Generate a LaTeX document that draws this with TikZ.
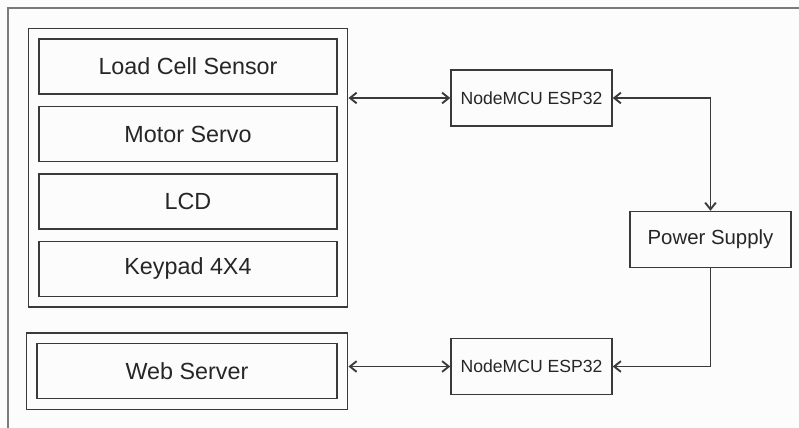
\documentclass[tikz,border=0pt]{standalone}
\usepackage{fontspec}
\setmainfont{Liberation Sans}
\usetikzlibrary{arrows.meta,positioning,fit}
\definecolor{blkline}{HTML}{3A3A3A}
\definecolor{blkframe}{HTML}{7A7A7A}
\definecolor{blktext}{HTML}{262626}
\definecolor{blkbg}{HTML}{FCFCFC}

\begin{document}
\begin{tikzpicture}[x=0.75pt,y=-0.75pt,
  part/.style={draw=blkline,line width=1.1pt,minimum width=223.5pt,minimum height=41.25pt,inner sep=0pt,text=blktext,font=\fontsize{17.5}{21}\selectfont},
  group/.style={draw=blkline,line width=1.1pt,inner sep=7.5pt},
  unit/.style={draw=blkline,line width=1.1pt,minimum width=120.75pt,minimum height=42pt,inner sep=0pt,text=blktext,font=\fontsize{13.2}{16}\selectfont},
  link/.style={draw=blkline,line width=1.4pt},
  >={Straight Barb[length=5pt,width=8pt]}, node distance=8.25pt]
\useasboundingbox[fill=blkbg] (0,0) rectangle (799,428);
% outer frame, cut by the page edge
\draw[blkframe,line width=1.5pt] (799,8) -| (8,428);
% device stack
\node[part] (load) at (188,66.5) {Load Cell Sensor};
\node[part,below=of load] (servo) {Motor Servo};
\node[part,below=of servo] (lcd) {LCD};
\node[part,below=of lcd] (keypad) {Keypad 4X4};
\node[group,fit=(load)(keypad)] (sensors) {};
\node[part,minimum width=225pt] (web) at (187,371) {Web Server};
\node[group,fit=(web)] (server) {};
% controllers and supply
\node[unit] (mcu1) at (531.5,98) {NodeMCU ESP32};
\node[unit] (mcu2) at (531.5,366.5) {NodeMCU ESP32};
\node[unit,font=\fontsize{15.3}{18}\selectfont] (power) at (710.5,239.5) {Power Supply};
\draw[link,<->] (mcu1.west) -- (mcu1.west -| sensors.east);
\draw[link,<->] (mcu1.east) -| (power.north);
\draw[link,->] (power.south) |- (mcu2.east);
\draw[link,<->] (mcu2.west) -- (mcu2.west -| server.east);
\end{tikzpicture}
\end{document}
